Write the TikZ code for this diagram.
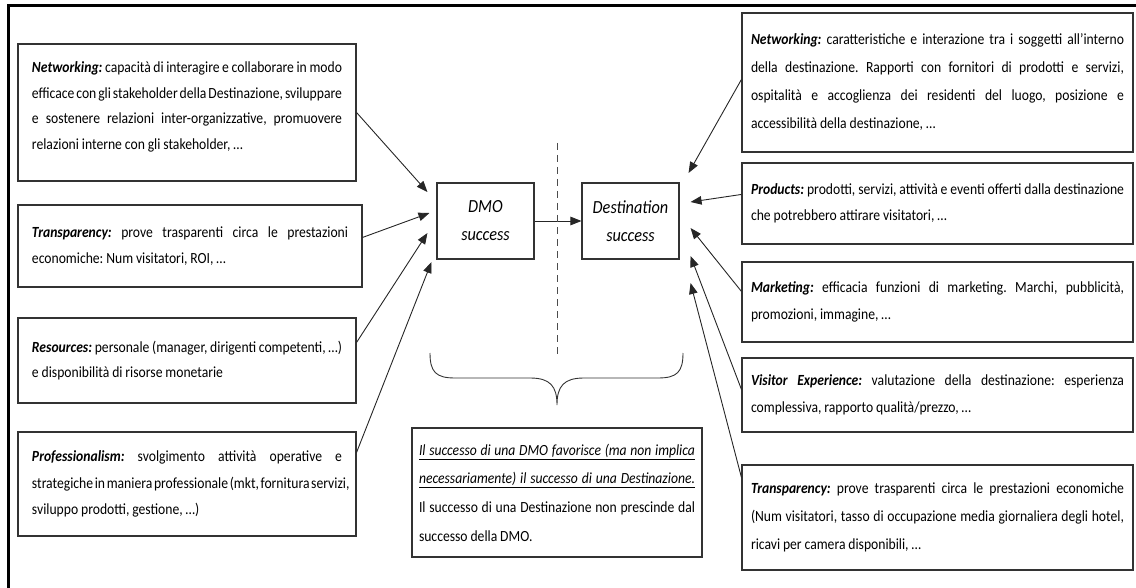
\documentclass[tikz,border=0pt]{standalone}
\usepackage{fontspec}
\setmainfont{Carlito}[FakeStretch=0.88]
\usetikzlibrary{arrows.meta,calc}

% one justified line filling the text width
\newcommand{\jline}[1]{\makebox[\hsize][s]{#1}}
% bold italic lead-in of each factor
\newcommand{\lab}[1]{\textbf{\textit{#1}}}
% extra depth below a last line, lifting the text in its box
\newcommand{\lift}[1]{\rule[-#1bp]{0pt}{#1bp}}
% interword glue that can stretch and shrink
\newcommand{\wordglue}{\frenchspacing\spaceskip=2.9bp plus 30bp minus 1.2bp\relax}

\tikzset{
  box/.style={draw=black!80, line width=1.1bp, fill=white,
    inner ysep=0pt, text=black, execute at begin node=\wordglue},
  leftbox/.style={box, text width=310bp, inner xsep=14bp, minimum width=338bp,
    font=\fontsize{15.5bp}{25.5bp}\selectfont},
  rightbox/.style={box, text width=373bp, inner xsep=9bp, minimum width=391bp,
    font=\fontsize{15.5bp}{28bp}\selectfont},
  succbox/.style={box, align=center, minimum width=97bp, minimum height=76bp,
    font=\fontsize{18.5bp}{28bp}\selectfont\itshape},
  notebox/.style={box, text width=276bp, inner xsep=7bp, minimum width=290bp,
    font=\fontsize{15.5bp}{28.7bp}\selectfont},
  arr/.style={draw=black!85, line width=0.9bp,
    -{Triangle[length=11bp,width=8.5bp]}},
}

\begin{document}
\begin{tikzpicture}[x=1bp, y=-1bp]
\useasboundingbox (0,0) rectangle (1136,588);

% partial outer frame
\draw[line width=3bp] (8,588) -- (8,6) -- (1136,6);

% left column: DMO success factors
\node[leftbox, minimum height=137bp] (l1) at (187,112.5) {%
\jline{\lab{Networking:} capacità di interagire e collaborare in modo}\\
\jline{efficace con gli stakeholder della Destinazione, sviluppare}\\
\jline{e sostenere relazioni inter-organizzative, promuovere}\\
relazioni interne con gli stakeholder, …\lift{14}};

\node[leftbox, text width=316bp, minimum width=344bp, minimum height=82bp] (l2) at (190,246) {%
\jline{\lab{Transparency:} prove trasparenti circa le prestazioni}\\
economiche: Num visitatori, ROI, …};

\node[leftbox, minimum height=85bp] (l3) at (187,360.5) {%
\jline{\lab{Resources:} personale (manager, dirigenti competenti, …)}\\
e disponibilità di risorse monetarie};

\node[leftbox, minimum height=104bp, font=\fontsize{15.5bp}{26.5bp}\selectfont] (l4) at (187,484) {%
\jline{\lab{Professionalism:} svolgimento attività operative e}\\
\jline{strategiche in maniera professionale (mkt, fornitura servizi,}\\
sviluppo prodotti, gestione, …)};

% central success boxes
\node[succbox] (dmo) at (485.5,221) {DMO\\success};
\node[succbox] (dest) at (630.5,221) {Destination\\success};

% right column: destination success factors
\node[rightbox, minimum height=139bp] (r1) at (937.5,82.5) {%
\jline{\lab{Networking:} caratteristiche e interazione tra i soggetti all’interno}\\
\jline{della destinazione. Rapporti con fornitori di prodotti e servizi,}\\
\jline{ospitalità e accoglienza dei residenti del luogo, posizione e}\\
accessibilità della destinazione, …};

\node[rightbox, minimum height=81bp, font=\fontsize{15.5bp}{26bp}\selectfont] (r2) at (937.5,203.5) {%
\jline{\lab{Products:} prodotti, servizi, attività e eventi offerti dalla destinazione}\\
che potrebbero attirare visitatori, …};

\node[rightbox, minimum height=80bp, font=\fontsize{15.5bp}{27bp}\selectfont] (r3) at (937.5,302) {%
\jline{\lab{Marketing:} efficacia funzioni di marketing. Marchi, pubblicità,}\\
promozioni, immagine, …};

\node[rightbox, minimum height=74bp, font=\fontsize{15.5bp}{27bp}\selectfont] (r4) at (937.5,395) {%
\jline{\lab{Visitor Experience:} valutazione della destinazione: esperienza}\\
complessiva, rapporto qualità/prezzo, …};

\node[rightbox, minimum height=105bp] (r5) at (937.5,517.5) {%
\jline{\lab{Transparency:} prove trasparenti circa le prestazioni economiche}\\
\jline{(Num visitatori, tasso di occupazione media giornaliera degli hotel,}\\
ricavi per camera disponibili, …};

% note below the brace
\node[notebox, minimum height=129bp] (note) at (557,492.5) {%
\underline{\jline{\itshape Il successo di una DMO favorisce (ma non implica}}\\
\underline{\jline{\itshape necessariamente) il successo di una Destinazione.}}\\
\jline{Il successo di una Destinazione non prescinde dal}\\
successo della DMO.};

% arrow tips beside the success boxes
\coordinate (t1) at ($(dmo.west)+(-9,-29)$);
\coordinate (t2) at ($(dmo.west)+(-7,-8)$);
\coordinate (t3) at ($(dmo.west)+(-9,12)$);
\coordinate (t4) at ($(dmo.west)+(-5,41)$);
\coordinate (u1) at ($(dest.east)+(9,-48)$);
\coordinate (u2) at ($(dest.east)+(11,-19)$);
\coordinate (u3) at ($(dest.east)+(11,7)$);
\coordinate (u4) at ($(dest.east)+(11,35)$);
\coordinate (u5) at ($(dest.east)+(11,62)$);

\draw[arr] (l1.east) -- (t1);
\draw[arr] ($(l2.north east)+(0,33)$) -- (t2);
\draw[arr] ($(l3.north east)+(0,25)$) -- (t3);
\draw[arr] ($(l4.north east)+(0,21)$) -- (t4);

\draw[arr] (dmo.east) -- (dest.west);

\draw[arr] ($(r1.north west)+(0,67)$) -- (u1);
\draw[arr] ($(r2.north west)+(0,32)$) -- (u2);
\draw[arr] ($(r3.north west)+(0,30)$) -- (u3);
\draw[arr] ($(r4.north west)+(0,32)$) -- (u4);
\draw[arr] ($(r5.north west)+(0,13)$) -- (u5);

% dashed divider between the two success boxes
\draw[black!70, line width=0.9bp, dash pattern=on 7bp off 5bp] (557,143) -- (557,355);

% curly brace over the note
\draw[black!80, line width=0.9bp]
  (430,353) .. controls (430,372) and (436,378) .. (455,378)
  -- (530,378) .. controls (550,378) and (557,386) .. (557,405)
  .. controls (557,386) and (564,378) .. (584,378)
  -- (658,378) .. controls (677,378) and (683,372) .. (683,353);
\end{tikzpicture}
\end{document}
